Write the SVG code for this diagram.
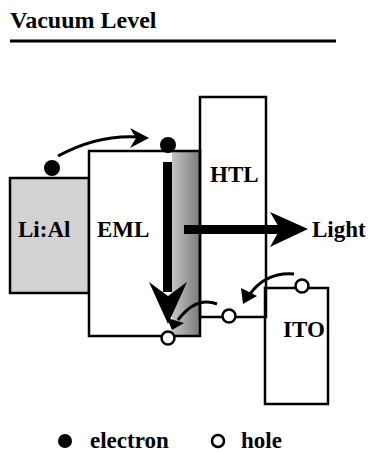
<svg xmlns="http://www.w3.org/2000/svg" width="371" height="452" viewBox="0 0 371 452">
<style>
  .box { stroke:#000; stroke-width:2.5; }
  .lbl { font-family:'Liberation Serif','Times New Roman',serif; font-weight:bold; font-size:23px; fill:#000; }
  .hole { fill:#fff; stroke:#000; stroke-width:2.5; }
  .curve { fill:none; stroke:#000; stroke-width:3; }
</style>
<defs>
  <linearGradient id="strip" x1="0" y1="0" x2="1" y2="0">
    <stop offset="0" stop-color="#c4c4c4"/>
    <stop offset="1" stop-color="#7a7a7a"/>
  </linearGradient>
</defs>
<rect width="371" height="452" fill="#fff"/>

<g id="title">
  <text class="lbl" x="10" y="28" style="font-size:24px">Vacuum Level</text>
  <line x1="10" y1="41" x2="336" y2="41" stroke="#000" stroke-width="3"/>
</g>

<g id="lial">
  <rect x="10" y="178" width="79" height="115" fill="#d2d2d2"/>
  <rect x="10" y="178" width="79" height="115" class="box" fill="none"/>
  <text class="lbl" x="18" y="237">Li:Al</text>
</g>

<g id="eml">
  <rect x="89" y="151" width="111" height="185" fill="#fff"/>
  <rect x="172" y="151" width="28" height="185" fill="url(#strip)"/>
  <rect x="89" y="151" width="111" height="185" class="box" fill="none"/>
  <text class="lbl" x="97" y="237">EML</text>
</g>

<g id="htl">
  <rect x="200" y="97" width="66" height="220" class="box" fill="none"/>
  <text class="lbl" x="210" y="182">HTL</text>
</g>

<g id="ito">
  <rect x="265" y="288" width="63" height="116" class="box" fill="none"/>
  <text class="lbl" x="283" y="337">ITO</text>
</g>

<g id="connectors">
  <path class="curve" d="M58,156 Q98,134 140,137"/>
  <path d="M130,128 L149,138 L130,148 L136,138 Z" fill="#000"/>
  <rect x="163" y="162" width="9" height="130" fill="#000"/>
  <path d="M149,282 L168,296 L187,282 L168,324 Z" fill="#000"/>
  <rect x="184" y="225" width="98" height="9" fill="#000"/>
  <path d="M270,212 L308,229 L270,247 L280,229 Z" fill="#000"/>
  <path class="curve" d="M294,274 Q266,272 250,294"/>
  <path d="M241,288 L243,304 L257,296 Z" fill="#000"/>
  <path class="curve" d="M217,304 Q196,296 178,320"/>
  <path d="M167,318 L172,330 L184,323 Z" fill="#000"/>
</g>

<g id="carriers">
  <circle cx="52" cy="168" r="8" fill="#000"/>
  <circle cx="168" cy="145" r="8" fill="#000"/>
  <circle cx="302" cy="286" r="6.5" class="hole"/>
  <circle cx="229" cy="316" r="6.5" class="hole"/>
  <circle cx="168" cy="338" r="6.5" class="hole"/>
</g>

<g id="light-label">
  <text class="lbl" x="312" y="237">Light</text>
</g>

<g id="legend">
  <circle cx="65" cy="441" r="7" fill="#000"/>
  <text class="lbl" x="90" y="448">electron</text>
  <circle cx="218" cy="441" r="6" class="hole"/>
  <text class="lbl" x="241" y="448">hole</text>
</g>
</svg>
